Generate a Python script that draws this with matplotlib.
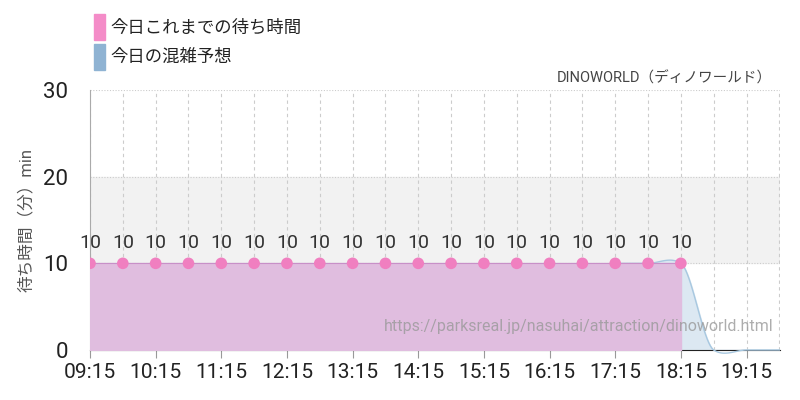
import matplotlib
matplotlib.use("Agg")
import matplotlib.pyplot as plt
import numpy as np

plt.rcParams["font.family"] = ["Roboto", "Noto Sans CJK JP"]

times = [9.25 + 0.5*i for i in range(19)]   # 09:15 .. 18:15
waits = [10]*19
fc_times = [17.25, 17.75, 18.25, 18.75, 19.25, 19.75, 20.25]
fc_vals = [10, 10, 10, 0, 0, 0, 0]
tick_pos = [9.25 + i for i in range(11)]
tick_labels = ["09:15","10:15","11:15","12:15","13:15","14:15","15:15","16:15","17:15","18:15","19:15"]

def catmull(x, y, n=20, tension=0.25):
    x = np.asarray(x, float); y = np.asarray(y, float)
    xs, ys = [], []
    for i in range(len(x)-1):
        p0 = y[max(i-1,0)]; p1 = y[i]; p2 = y[i+1]; p3 = y[min(i+2,len(y)-1)]
        m1 = tension*(p2-p0); m2 = tension*(p3-p1)
        t = np.linspace(0, 1, n, endpoint=False)
        h00 = 2*t**3-3*t**2+1; h10 = t**3-2*t**2+t; h01 = -2*t**3+3*t**2; h11 = t**3-t**2
        ys.append(h00*p1+h10*m1+h01*p2+h11*m2)
        xs.append(x[i]+(x[i+1]-x[i])*t)
    xs.append([x[-1]]); ys.append([y[-1]])
    return np.concatenate(xs), np.concatenate(ys)

fig = plt.figure(figsize=(8, 4), dpi=100)
ax = fig.add_axes([0.1125, 0.125, 0.8625, 0.65])
xmin, xmax = 9.25, 19.76
ax.set_xlim(xmin, xmax)
ax.set_ylim(0, 30)
ax.axhspan(10, 20, color="#f2f2f2", zorder=0)
for t in np.arange(9.25, 20, 0.5):
    ax.axvline(t, color="#cccccc", lw=0.8, ls=(0, (3, 3)), zorder=1)
for yv in [10, 20, 30]:
    ax.axhline(yv, color="#cccccc", lw=0.8, ls=(0, (1, 1.5)), zorder=1)

fx, fy = catmull(fc_times, fc_vals)
keep = fx <= xmax
fx, fy = fx[keep], fy[keep]
ax.fill_between(fx, np.maximum(fy, 0), 0, color="#dce8f2", zorder=2)
ax.plot(fx, np.maximum(fy, -0.4), color="#a8c8e0", lw=1, zorder=3, clip_on=False)

ax.fill_between(times, waits, 0, color="#e0bddf", zorder=4)
ax.plot(times, waits, color="#c890c8", lw=0.8, zorder=5)
ax.scatter(times, waits, s=70, color="#f07fc0", zorder=6, edgecolors="none")
for t, w in zip(times, waits):
    ax.text(t, w + 1.3, str(w), ha="center", va="bottom", fontsize=14, color="#333333", zorder=7)

ax.set_xticks(tick_pos)
ax.set_xticklabels(tick_labels, fontsize=15, color="#222222")
ax.set_yticks([0, 10, 20, 30])
ax.set_yticklabels(["0", "10", "20", "30"], fontsize=16, color="#222222")
ax.tick_params(axis="x", length=6, color="#999999")
ax.tick_params(axis="y", length=0, pad=16)
for s in ["top", "right"]:
    ax.spines[s].set_visible(False)
ax.spines["left"].set_color("#aaaaaa")
ax.spines["bottom"].set_color("#222222")
ax.set_ylabel("待ち時間（分）min", fontsize=12, color="#555555", labelpad=6)

ax.text(0.99, 0.06, "https://parksreal.jp/nasuhai/attraction/dinoworld.html", transform=ax.transAxes,
        ha="right", va="bottom", fontsize=11.5, color="#999999", alpha=0.8, zorder=8)
fig.text(0.965, 0.805, "DINOWORLD（ディノワールド）", ha="right", va="center", fontsize=10.5, color="#444444")

fig.patches.append(matplotlib.patches.Rectangle((0.118, 0.9), 0.013, 0.065, transform=fig.transFigure, color="#f48cc8"))
fig.patches.append(matplotlib.patches.Rectangle((0.118, 0.825), 0.013, 0.065, transform=fig.transFigure, color="#8fb3d3"))
fig.text(0.138, 0.932, "今日これまでの待ち時間", fontsize=12.5, va="center", color="#222222")
fig.text(0.138, 0.857, "今日の混雑予想", fontsize=12.5, va="center", color="#222222")

fig.savefig("out.png", dpi=100)
